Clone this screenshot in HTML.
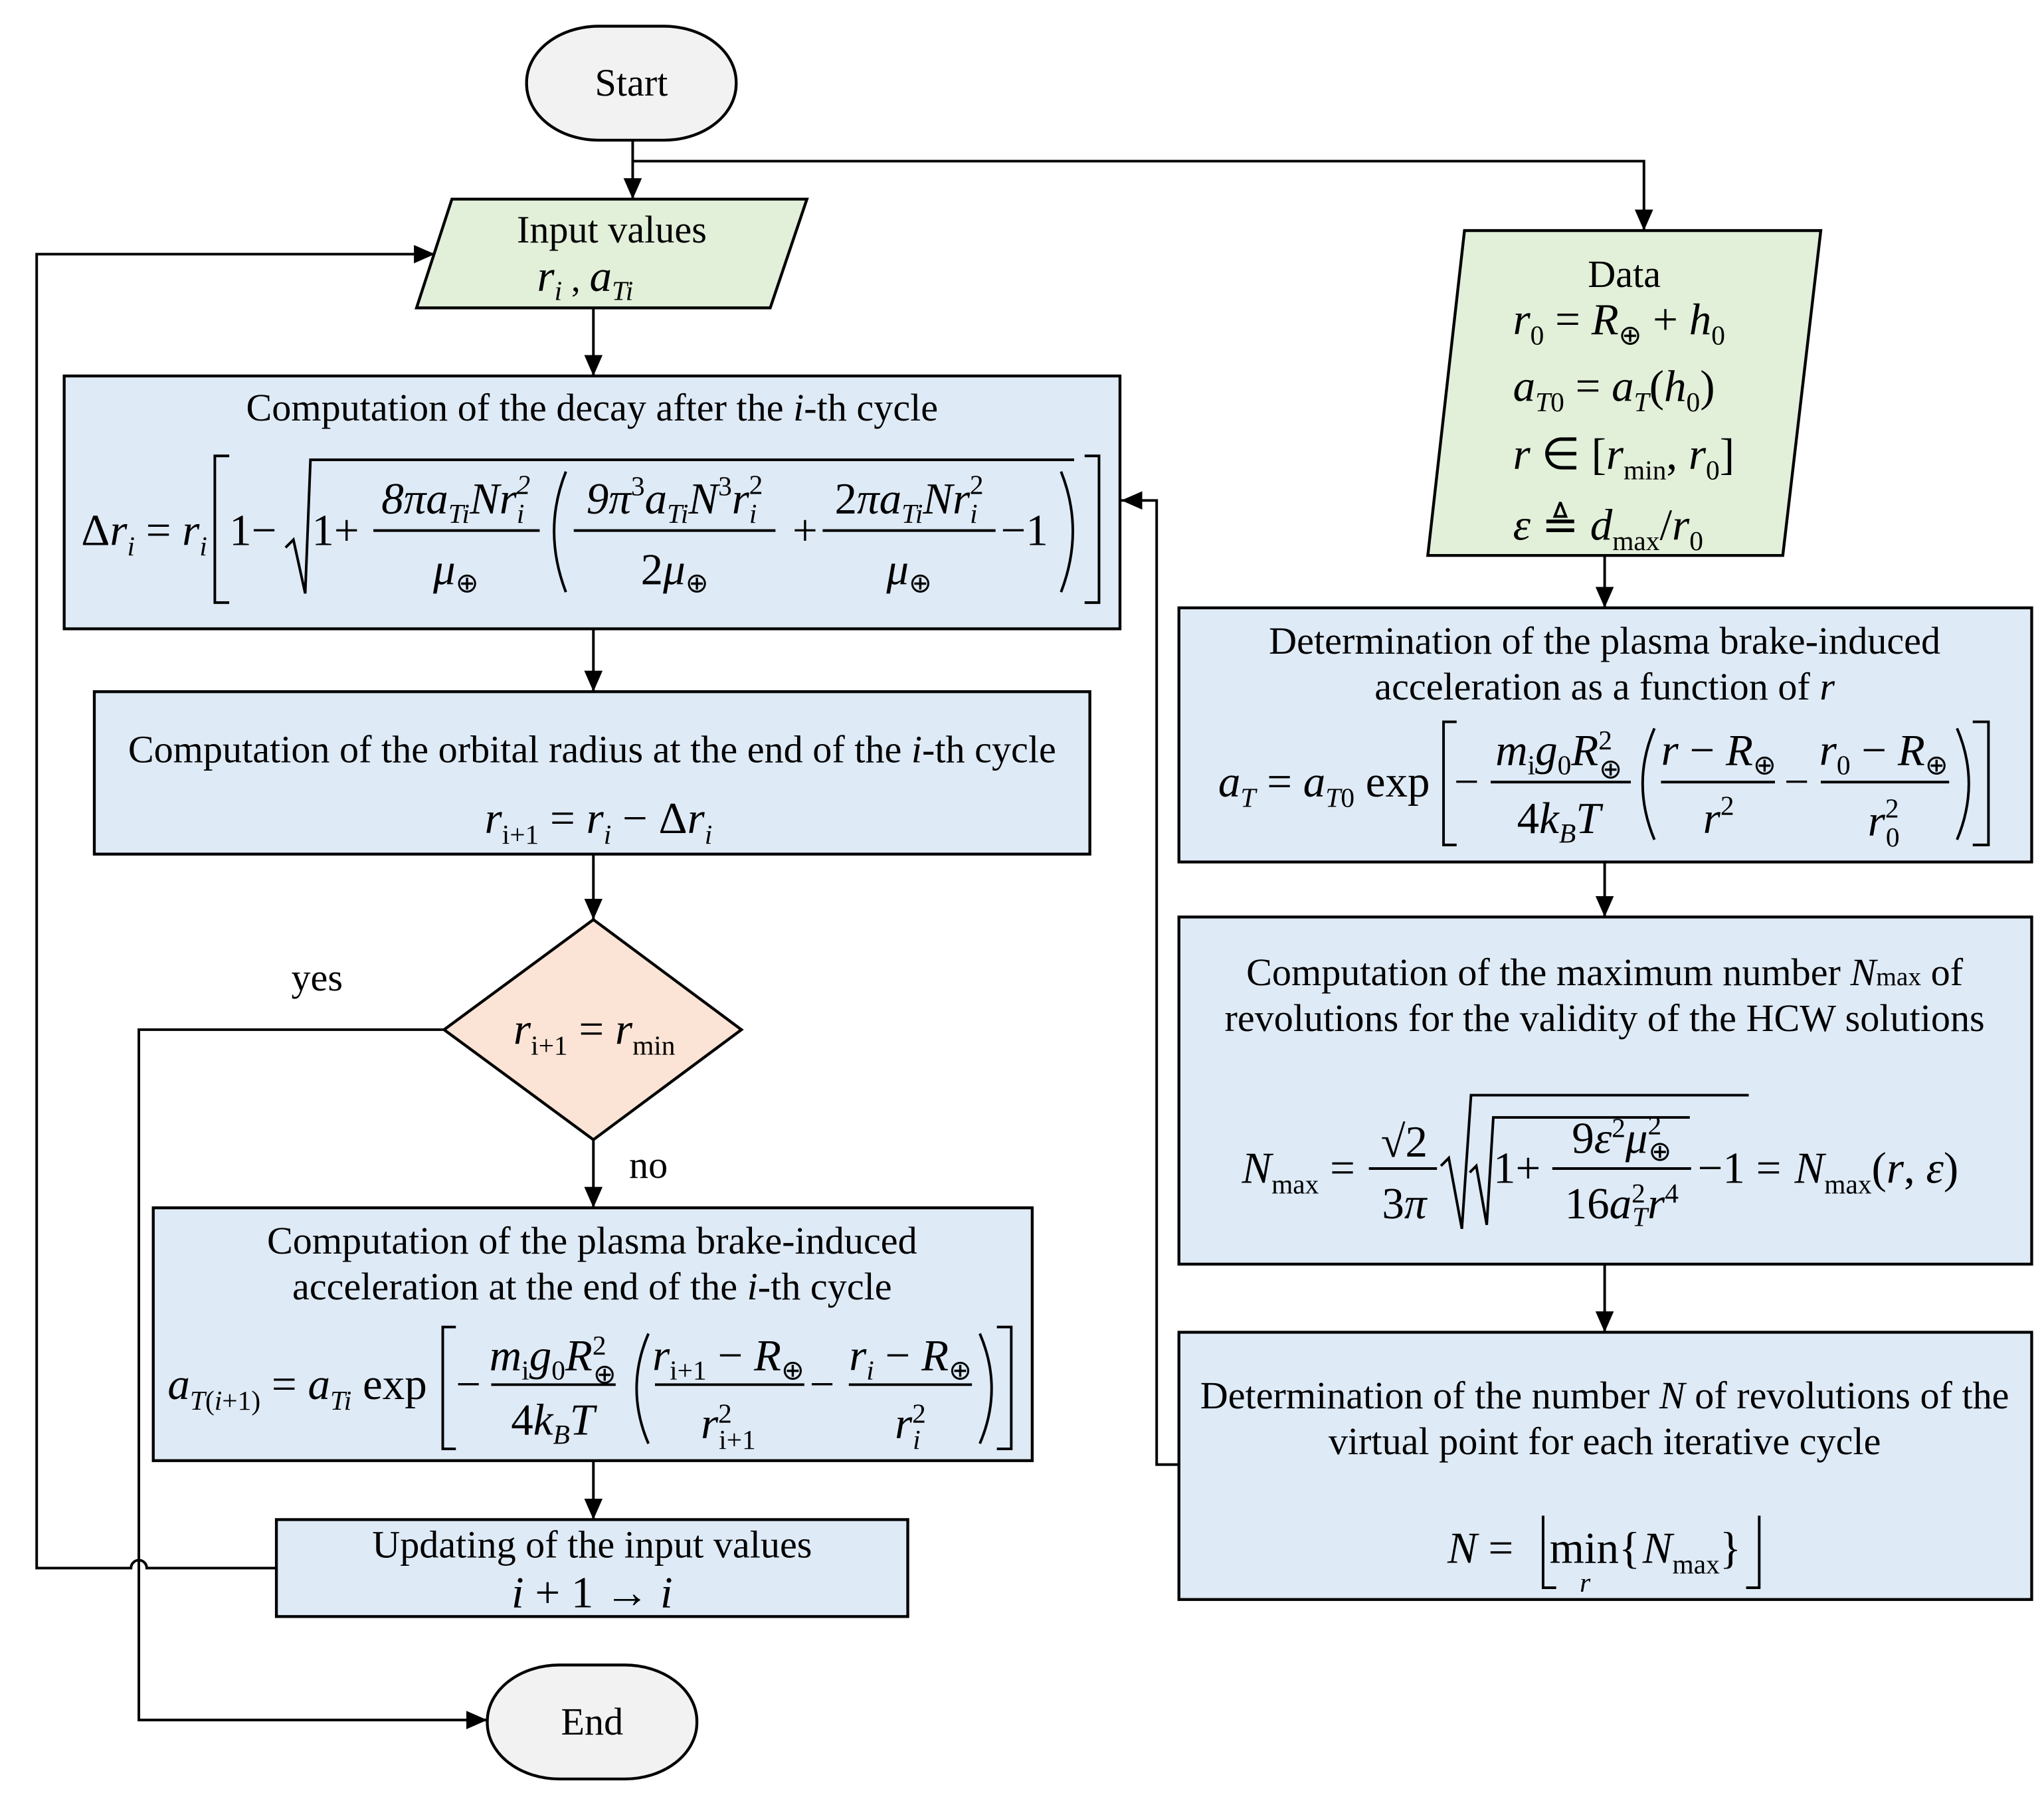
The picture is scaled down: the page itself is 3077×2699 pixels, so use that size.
<!DOCTYPE html>
<html><head><meta charset="utf-8"><style>
html,body{margin:0;padding:0;background:#fff}
svg{display:block}
text{font-family:"Liberation Serif",serif;fill:#000}
.t{font-size:29.5px}
.m{font-size:34px;font-style:italic}
.r{font-style:normal}
.s{font-size:21px}
</style></head><body>
<svg width="3077" height="2699" viewBox="0 0 1560.4 1368.7" xmlns="http://www.w3.org/2000/svg">
<defs><marker id="b" markerWidth="16" markerHeight="14" refX="16" refY="7" orient="auto" markerUnits="userSpaceOnUse"><path d="M0,0 L16,7 L0,14 Z" fill="#000"/></marker></defs>
<g stroke="#000" stroke-width="2" fill="none">
<path d="M483,107 V152" marker-end="url(#b)"/>
<path d="M483,123 H1255 V176" marker-end="url(#b)"/>
<path d="M453,235 V287" marker-end="url(#b)"/>
<path d="M453,480 V528" marker-end="url(#b)"/>
<path d="M453,652 V702" marker-end="url(#b)"/>
<path d="M453,870 V922" marker-end="url(#b)"/>
<path d="M453,1115 V1160" marker-end="url(#b)"/>
<path d="M339,786 H106 V1313 H372" marker-end="url(#b)"/>
<path d="M211,1197 H112 A6,6 0 0 0 100,1197 H28 V194 H332" marker-end="url(#b)"/>
<path d="M1225,424 V464" marker-end="url(#b)"/>
<path d="M1225,658 V700" marker-end="url(#b)"/>
<path d="M1225,965 V1017" marker-end="url(#b)"/>
<path d="M900,1118 H883 V382 H856" marker-end="url(#b)"/>
</g>
<g stroke="#000" stroke-width="2.2">
<rect x="402" y="20" width="160" height="87" rx="55" ry="43" fill="#f2f2f2"/>
<rect x="372" y="1271" width="160" height="87" rx="55" ry="43" fill="#f2f2f2"/>
<polygon points="345,152 616,152 588,235 318,235" fill="#e2efd9"/>
<polygon points="1118,176 1390,176 1361,424 1090,424" fill="#e2efd9"/>
<rect x="49" y="287" width="806" height="193" fill="#deeaf6"/>
<rect x="72" y="528" width="760" height="124" fill="#deeaf6"/>
<polygon points="453,702 566,786 453,870 339,786" fill="#fbe4d5"/>
<rect x="117" y="922" width="671" height="193" fill="#deeaf6"/>
<rect x="211" y="1160" width="482" height="74" fill="#deeaf6"/>
<rect x="900" y="464" width="651" height="194" fill="#deeaf6"/>
<rect x="900" y="700" width="651" height="265" fill="#deeaf6"/>
<rect x="900" y="1017" width="651" height="204" fill="#deeaf6"/>
</g>
<g class="t" text-anchor="middle">
<text x="482" y="73">Start</text>
<text x="452" y="1324">End</text>
<text x="467" y="185">Input values</text>
<text x="452" y="321">Computation of the decay after the <tspan font-style="italic">i</tspan>-th cycle</text>
<text x="452" y="582">Computation of the orbital radius at the end of the <tspan font-style="italic">i</tspan>-th cycle</text>
<text x="452" y="957">Computation of the plasma brake-induced</text>
<text x="452" y="992">acceleration at the end of the <tspan font-style="italic">i</tspan>-th cycle</text>
<text x="452" y="1189">Updating of the input values</text>
<text x="1240" y="219">Data</text>
<text x="1225" y="499">Determination of the plasma brake-induced</text>
<text x="1225" y="534">acceleration as a function of <tspan font-style="italic">r</tspan></text>
<text x="1225" y="752">Computation of the maximum number <tspan font-style="italic">N</tspan><tspan font-size="20">max</tspan> of</text>
<text x="1225" y="787">revolutions for the validity of the HCW solutions</text>
<text x="1225" y="1075">Determination of the number <tspan font-style="italic">N</tspan> of revolutions of the</text>
<text x="1225" y="1110">virtual point for each iterative cycle</text>
<text x="242" y="756">yes</text>
<text x="495" y="899">no</text>
</g>
<text class="m" x="410" y="222">r<tspan class="s" dy="7">i</tspan><tspan class="r" dy="-7" font-size="28">  , </tspan>a<tspan class="s" dy="7">Ti</tspan></text>
<g class="m">
<text x="62" y="416"><tspan class="r">Δ</tspan>r<tspan class="s" dy="8">i</tspan><tspan class="r" dy="-8"> = </tspan>r<tspan class="s" dy="8">i</tspan></text>
<text x="175" y="416" class="r">1−</text>
<text x="238" y="416" class="r">1+</text>
<text x="348" y="392" text-anchor="middle">8<tspan>π</tspan>a<tspan class="s" dy="7">Ti</tspan><tspan dy="-7">Nr</tspan><tspan class="s" dy="7">i</tspan><tspan class="s" dx="-6" dy="-22">2</tspan></text>
<text x="348" y="446" text-anchor="middle">μ<tspan class="s r" dy="6">⊕</tspan></text>
<text x="515" y="392" text-anchor="middle">9π<tspan class="s r" dy="-14">3</tspan><tspan dy="14">a</tspan><tspan class="s" dy="7">Ti</tspan><tspan dy="-7">N</tspan><tspan class="s r" dy="-14">3</tspan><tspan dy="14">r</tspan><tspan class="s" dy="7">i</tspan><tspan class="s r" dx="-6" dy="-22">2</tspan></text>
<text x="515" y="446" text-anchor="middle"><tspan class="r">2</tspan>μ<tspan class="s r" dy="6">⊕</tspan></text>
<text x="605" y="416" class="r">+</text>
<text x="694" y="392" text-anchor="middle"><tspan class="r">2</tspan>πa<tspan class="s" dy="7">Ti</tspan><tspan dy="-7">Nr</tspan><tspan class="s" dy="7">i</tspan><tspan class="s r" dx="-6" dy="-22">2</tspan></text>
<text x="694" y="446" text-anchor="middle">μ<tspan class="s r" dy="6">⊕</tspan></text>
<text x="764" y="416" class="r">−1</text>
</g>
<g stroke="#000" stroke-width="2" fill="none">
<path d="M175,348 H164 V460 H175"/>
<path d="M828,348 H839 V460 H828"/>
<path d="M218,418 L224,412 L233,453 L237,351 H820"/>
<line x1="285" y1="405" x2="412" y2="405"/>
<line x1="438" y1="405" x2="592" y2="405"/>
<line x1="628" y1="405" x2="760" y2="405"/>
<path d="M432,360 Q414,405 432,452"/>
<path d="M810,360 Q828,405 810,452"/>
</g>
<text class="m" x="370" y="636">r<tspan class="s r" dy="8">i+1</tspan><tspan class="r" dy="-8"> = </tspan>r<tspan class="s" dy="8">i</tspan><tspan class="r" dy="-8"> − Δ</tspan>r<tspan class="s" dy="8">i</tspan></text>
<text class="m" x="392" y="797" font-size="30">r<tspan class="s r" dy="8">i+1</tspan><tspan class="r" dy="-8"> = </tspan>r<tspan class="s r" dy="8">min</tspan></text>
<g class="m">
<text x="128" y="1068">a<tspan class="s" dy="8">T</tspan><tspan class="s r">(</tspan><tspan class="s">i</tspan><tspan class="s r">+1)</tspan><tspan class="r" dy="-8"> = </tspan>a<tspan class="s" dy="8">Ti</tspan><tspan class="r" dy="-8"> exp</tspan></text>
<text x="348" y="1068" class="r">−</text>
<text x="422" y="1046" text-anchor="middle">m<tspan class="s r" dy="7">i</tspan><tspan dy="-7">g</tspan><tspan class="s r" dy="7">0</tspan><tspan dy="-7">R</tspan><tspan class="s r" dy="-12">2</tspan><tspan class="s r" dx="-10" dy="22">⊕</tspan></text>
<text x="422" y="1095" text-anchor="middle"><tspan class="r">4</tspan>k<tspan class="s" dy="7">B</tspan><tspan dy="-7">T</tspan></text>
<text x="556" y="1046" text-anchor="middle">r<tspan class="s r" dy="7">i+1</tspan><tspan class="r" dy="-7"> − </tspan>R<tspan class="s r" dy="7">⊕</tspan></text>
<text x="556" y="1098" text-anchor="middle">r<tspan class="s r" dy="-12">2</tspan><tspan class="s r" dx="-10" dy="20">i+1</tspan></text>
<text x="618" y="1068" class="r">−</text>
<text x="695" y="1046" text-anchor="middle">r<tspan class="s" dy="7">i</tspan><tspan class="r" dy="-7"> − </tspan>R<tspan class="s r" dy="7">⊕</tspan></text>
<text x="695" y="1098" text-anchor="middle">r<tspan class="s r" dy="-12">2</tspan><tspan class="s" dx="-10" dy="20">i</tspan></text>
</g>
<g stroke="#000" stroke-width="2" fill="none">
<path d="M348,1013 H338 V1106 H348"/>
<path d="M761,1013 H772 V1106 H761"/>
<line x1="375" y1="1057" x2="470" y2="1057"/>
<line x1="500" y1="1057" x2="614" y2="1057"/>
<line x1="648" y1="1057" x2="742" y2="1057"/>
<path d="M495,1018 Q477,1060 495,1102"/>
<path d="M748,1018 Q766,1060 748,1102"/>
</g>
<text class="m" x="452" y="1227" text-anchor="middle">i<tspan class="r"> + 1 → </tspan>i</text>
<g class="m">
<text x="1155" y="255">r<tspan class="s r" dy="8">0</tspan><tspan class="r" dy="-8"> = </tspan>R<tspan class="s r" dy="8">⊕</tspan><tspan class="r" dy="-8"> + </tspan>h<tspan class="s r" dy="8">0</tspan></text>
<text x="1155" y="306">a<tspan class="s" dy="8">T</tspan><tspan class="s r">0</tspan><tspan class="r" dy="-8"> = </tspan>a<tspan class="s" dy="8">T</tspan><tspan class="r" dy="-8">(</tspan>h<tspan class="s r" dy="8">0</tspan><tspan class="r" dy="-8">)</tspan></text>
<text x="1155" y="358">r<tspan class="r"> ∈ [</tspan>r<tspan class="s r" dy="8">min</tspan><tspan class="r" dy="-8">, </tspan>r<tspan class="s r" dy="8">0</tspan><tspan class="r" dy="-8">]</tspan></text>
<text x="1155" y="412">ε<tspan class="r"> ≜ </tspan>d<tspan class="s r" dy="8">max</tspan><tspan class="r" dy="-8">/</tspan>r<tspan class="s r" dy="8">0</tspan></text>
</g>
<g class="m">
<text x="930" y="608">a<tspan class="s" dy="8">T</tspan><tspan class="r" dy="-8"> = </tspan>a<tspan class="s" dy="8">T</tspan><tspan class="s r">0</tspan><tspan class="r" dy="-8"> exp</tspan></text>
<text x="1110" y="608" class="r">−</text>
<text x="1190" y="584" text-anchor="middle">m<tspan class="s r" dy="7">i</tspan><tspan dy="-7">g</tspan><tspan class="s r" dy="7">0</tspan><tspan dy="-7">R</tspan><tspan class="s r" dy="-12">2</tspan><tspan class="s r" dx="-10" dy="22">⊕</tspan></text>
<text x="1190" y="636" text-anchor="middle"><tspan class="r">4</tspan>k<tspan class="s" dy="7">B</tspan><tspan dy="-7">T</tspan></text>
<text x="1312" y="584" text-anchor="middle">r<tspan class="r"> − </tspan>R<tspan class="s r" dy="7">⊕</tspan></text>
<text x="1312" y="636" text-anchor="middle">r<tspan class="s r" dy="-14">2</tspan></text>
<text x="1362" y="608" class="r">−</text>
<text x="1438" y="584" text-anchor="middle">r<tspan class="s r" dy="7">0</tspan><tspan class="r" dy="-7"> − </tspan>R<tspan class="s r" dy="7">⊕</tspan></text>
<text x="1438" y="638" text-anchor="middle">r<tspan class="s r" dy="-14">2</tspan><tspan class="s r" dx="-10" dy="22">0</tspan></text>
</g>
<g stroke="#000" stroke-width="2" fill="none">
<path d="M1112,551 H1102 V645 H1112"/>
<path d="M1506,551 H1518 V645 H1506"/>
<line x1="1138" y1="597" x2="1245" y2="597"/>
<line x1="1268" y1="597" x2="1355" y2="597"/>
<line x1="1390" y1="597" x2="1488" y2="597"/>
<path d="M1263,556 Q1245,598 1263,641"/>
<path d="M1494,556 Q1512,598 1494,641"/>
</g>
<g class="m">
<text x="948" y="903">N<tspan class="s r" dy="8">max</tspan><tspan class="r" dy="-8"> =</tspan></text>
<text x="1072" y="883" text-anchor="middle" class="r">√2</text>
<text x="1072" y="930" text-anchor="middle"><tspan class="r">3</tspan>π</text>
<text x="1140" y="903" class="r">1+</text>
<text x="1238" y="880" text-anchor="middle"><tspan class="r">9</tspan>ε<tspan class="s r" dy="-12">2</tspan><tspan dy="12">μ</tspan><tspan class="s r" dy="-14">2</tspan><tspan class="s r" dx="-10" dy="20">⊕</tspan></text>
<text x="1238" y="930" text-anchor="middle"><tspan class="r">16</tspan>a<tspan class="s r" dy="-12">2</tspan><tspan class="s" dx="-10" dy="18">T</tspan><tspan dy="-6">r</tspan><tspan class="s r" dy="-12">4</tspan></text>
<text x="1296" y="903" class="r">−1 = </text>
<text x="1370" y="903">N<tspan class="s r" dy="8">max</tspan><tspan class="r" dy="-8">(</tspan>r<tspan class="r">, </tspan>ε<tspan class="r">)</tspan></text>
</g>
<g stroke="#000" stroke-width="2" fill="none">
<line x1="1045" y1="892" x2="1097" y2="892"/>
<line x1="1185" y1="892" x2="1291" y2="892"/>
<path d="M1100,890 L1106,884 L1116,938 L1123,836 H1335"/>
<path d="M1122,895 L1127,890 L1135,935 L1140,853 H1290"/>
</g>
<g class="m">
<text x="1105" y="1193">N<tspan class="r"> =</tspan></text>
<text x="1183" y="1193" class="r">min{</text>
<text x="1254" y="1193">N<tspan class="s r" dy="8">max</tspan><tspan class="r" dy="-8">}</tspan></text>
<text x="1206" y="1215" class="s">r</text>
</g>
<g stroke="#000" stroke-width="2" fill="none">
<path d="M1178,1157 V1212 H1188"/>
<path d="M1343,1157 V1212 H1333"/>
</g>
</svg>
</body></html>
